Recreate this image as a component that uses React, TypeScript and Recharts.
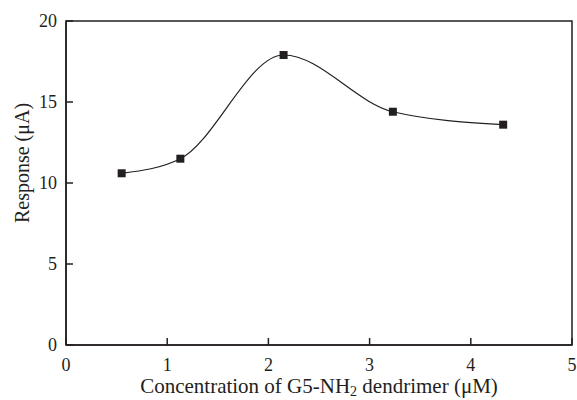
import React from "react";
import { LineChart, Line, XAxis, YAxis, ReferenceArea } from "recharts";

const concentration = [0.55, 1.13, 2.15, 3.23, 4.32];
const response = [10.6, 11.5, 17.9, 14.4, 13.6];
const xTicks = [0, 1, 2, 3, 4, 5];
const yTicks = [0, 5, 10, 15, 20];

const data = concentration.map((c, i) => ({ c, r: response[i] }));

const INK = "#231f20";
const FONT = "'Liberation Serif', 'Times New Roman', serif";

const SquareDot = (props: any) => {
  const { cx, cy } = props;
  if (cx == null || cy == null) return null;
  return <rect x={cx - 4} y={cy - 4} width={8} height={8} fill={INK} />;
};

const XLabel = (props: any) => {
  const { viewBox } = props;
  const cx = viewBox.x + viewBox.width / 2;
  return (
    <text x={cx} y={viewBox.y + 48} textAnchor="middle" fontFamily={FONT} fontSize={21} fill={INK}>
      Concentration of G5-NH
      <tspan dy={3} fontSize={14}>2</tspan>
      <tspan dy={-3}> dendrimer (μM)</tspan>
    </text>
  );
};

const YLabel = () => (
  <text
    x={29}
    y={163}
    transform="rotate(-90, 29, 163)"
    textAnchor="middle"
    fontFamily={FONT}
    fontSize={20}
    fill={INK}
  >
    Response (μA)
  </text>
);

const tickStyle = { fill: INK, fontSize: 18, fontFamily: FONT };

export default function App() {
  return (
    <div style={{ position: "absolute", left: 0, top: 0 }}>
      <LineChart width={577} height={400} data={data} margin={{ top: 21, right: 5, left: 0, bottom: 0 }}>
        <ReferenceArea x1={0} x2={5} y1={0} y2={20} fill="none" stroke={INK} strokeWidth={1.5} />
        <XAxis
          dataKey="c"
          type="number"
          domain={[0, 5]}
          ticks={xTicks}
          height={55}
          tickSize={-7}
          tickMargin={20}
          stroke={INK}
          strokeWidth={1.5}
          tick={tickStyle}
          label={<XLabel />}
        />
        <YAxis
          type="number"
          domain={[0, 20]}
          ticks={yTicks}
          width={66}
          tickSize={-7}
          tickMargin={16}
          stroke={INK}
          strokeWidth={1.5}
          tick={tickStyle}
          label={<YLabel />}
        />
        <Line
          dataKey="r"
          type="monotone"
          stroke={INK}
          strokeWidth={1.2}
          dot={<SquareDot />}
          activeDot={false}
          isAnimationActive={false}
        />
      </LineChart>
    </div>
  );
}
